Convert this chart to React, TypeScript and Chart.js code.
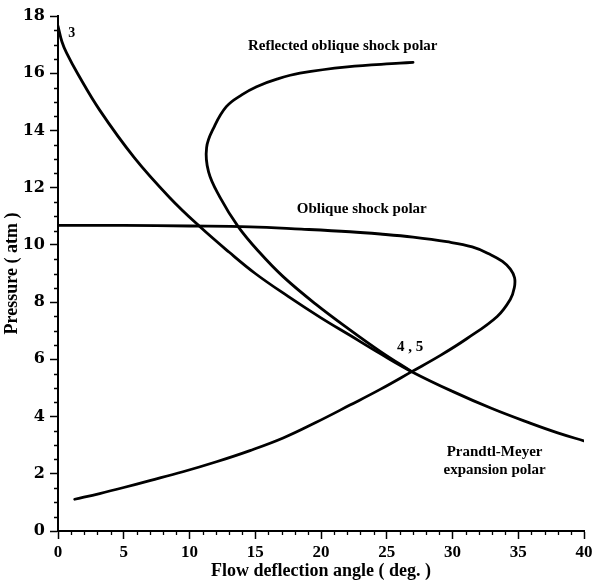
import React, { useEffect, useRef } from 'react';
import { Chart, registerables } from 'chart.js';

Chart.register(...registerables);

// Prandtl-Meyer expansion polar
const pmX = [0.0, 0.3, 0.66, 1.5, 3.17, 5.8, 8.5, 10.78, 13.0, 15.0, 17.5, 20.0, 22.2, 24.5, 26.9, 30.0, 33.0, 35.9, 38.0, 40.0];
const pmY = [17.65, 17.1, 16.7, 15.98, 14.71, 13.05, 11.65, 10.64, 9.75, 9.0, 8.2, 7.45, 6.84, 6.2, 5.57, 4.88, 4.28, 3.77, 3.43, 3.15];

// Oblique shock polar
const osX = [0.0, 5.0, 10.0, 14.6, 18.5, 22.2, 24.5, 27.0, 29.56, 31.5, 32.85, 33.8, 34.4, 34.72, 34.7, 34.4, 33.4, 31.08, 29.05, 26.9, 24.5, 22.2, 19.6, 17.12, 14.6, 12.05, 9.5, 6.98, 5.0, 3.17, 1.27];
const osY = [10.68, 10.68, 10.66, 10.63, 10.55, 10.46, 10.38, 10.27, 10.11, 9.93, 9.67, 9.42, 9.15, 8.85, 8.5, 8.1, 7.5, 6.72, 6.13, 5.57, 4.95, 4.4, 3.79, 3.25, 2.81, 2.42, 2.07, 1.76, 1.52, 1.31, 1.11];

// Reflected oblique shock polar
const rsX = [27.0, 26.0, 22.0, 18.4, 16.7, 15.1, 14.0, 12.8, 11.85, 11.3, 11.45, 12.3, 13.7, 15.3, 17.12, 19.6, 22.2, 24.5, 26.9];
const rsY = [16.38, 16.35, 16.22, 16.0, 15.8, 15.53, 15.25, 14.83, 14.1, 13.4, 12.55, 11.68, 10.64, 9.75, 8.89, 7.93, 7.03, 6.28, 5.57];

const xTicks = [0, 5, 10, 15, 20, 25, 30, 35, 40];
const yTicks = [0, 2, 4, 6, 8, 10, 12, 14, 16, 18];

const xTitle = 'Flow deflection angle ( deg. )';
const yTitle = 'Pressure ( atm )';

const labelTexts = ['3', 'Reflected oblique shock polar', 'Oblique shock polar', '4 , 5', 'Prandtl-Meyer', 'expansion polar'];
const labelX = [1.05, 21.65, 23.1, 26.77, 33.2, 33.2];
const labelY = [17.4, 16.95, 11.25, 6.43, 2.76, 2.13];
const labelSize = [14, 15, 15, 15, 15, 15];

const zip = (xs: number[], ys: number[]) => xs.map((x, i) => ({ x, y: ys[i] }));

const SERIF = '"Liberation Serif", "Times New Roman", serif';

const minorTicks = {
  id: 'minorTicks',
  afterDraw(chart: any) {
    const { ctx, scales, chartArea } = chart;
    const xs = scales.x;
    const ys = scales.y;
    ctx.save();
    ctx.strokeStyle = '#000';
    ctx.lineWidth = 1.3;
    ctx.beginPath();
    for (let v = 0; v <= 40; v += 1) {
      if (v % 5 === 0) continue;
      const px = Math.round(xs.getPixelForValue(v)) + 0.5;
      ctx.moveTo(px, chartArea.bottom);
      ctx.lineTo(px, chartArea.bottom + 4);
    }
    for (let v = 0; v <= 18; v += 0.5) {
      if (v % 2 === 0) continue;
      const py = Math.round(ys.getPixelForValue(v)) + 0.5;
      ctx.moveTo(chartArea.left, py);
      ctx.lineTo(chartArea.left - 4, py);
    }
    ctx.stroke();
    ctx.restore();
  },
};

const curveText = {
  id: 'curveText',
  afterDatasetsDraw(chart: any) {
    const { ctx, scales } = chart;
    ctx.save();
    ctx.fillStyle = '#000';
    ctx.textAlign = 'center';
    ctx.textBaseline = 'middle';
    labelTexts.forEach((t, i) => {
      ctx.font = `bold ${labelSize[i]}px ${SERIF}`;
      ctx.fillText(t, scales.x.getPixelForValue(labelX[i]), scales.y.getPixelForValue(labelY[i]));
    });
    ctx.restore();
  },
};

export default function App() {
  const ref = useRef<HTMLCanvasElement | null>(null);

  useEffect(() => {
    if (!ref.current) return;
    const line = {
      showLine: true,
      pointRadius: 0,
      borderColor: '#000',
      backgroundColor: '#000',
      borderWidth: 2.8,
      tension: 0.4,
      fill: false,
      borderCapStyle: 'round',
      borderJoinStyle: 'round',
    };
    const chart = new Chart(ref.current, {
      type: 'scatter',
      data: {
        datasets: [
          { ...line, label: 'Prandtl-Meyer expansion polar', data: zip(pmX, pmY) },
          { ...line, label: 'Oblique shock polar', data: zip(osX, osY) },
          { ...line, label: 'Reflected oblique shock polar', data: zip(rsX, rsY) },
        ],
      },
      options: {
        animation: false,
        responsive: false,
        devicePixelRatio: 1,
        layout: { padding: { left: 2, right: 12, top: 16, bottom: 0 } },
        plugins: { legend: { display: false }, tooltip: { enabled: false } },
        scales: {
          x: {
            type: 'linear',
            min: 0,
            max: 40,
            afterBuildTicks: (s: any) => {
              s.ticks = xTicks.map((v) => ({ value: v }));
            },
            afterFit: (s: any) => {
              s.height = 52;
            },
            ticks: {
              color: '#000',
              font: { family: SERIF, size: 17, weight: 'bold' },
              padding: 3,
              maxRotation: 0,
              autoSkip: false,
            },
            grid: { drawOnChartArea: false, drawTicks: true, tickLength: 8, tickColor: '#000', tickWidth: 1.5 },
            border: { display: true, color: '#000', width: 2 },
            title: {
              display: true,
              text: xTitle,
              color: '#000',
              font: { family: SERIF, size: 18, weight: 'bold' },
              padding: { top: 0, bottom: 1 },
            },
          },
          y: {
            type: 'linear',
            min: 0,
            max: 18,
            afterBuildTicks: (s: any) => {
              s.ticks = yTicks.map((v) => ({ value: v }));
            },
            afterFit: (s: any) => {
              s.width = 56;
            },
            ticks: {
              color: '#000',
              font: { family: '"DejaVu Serif", serif', size: 16, weight: 'bold' },
              padding: 5,
              autoSkip: false,
            },
            grid: { drawOnChartArea: false, drawTicks: true, tickLength: 8, tickColor: '#000', tickWidth: 1.5 },
            border: { display: true, color: '#000', width: 2 },
            title: {
              display: true,
              text: yTitle,
              color: '#000',
              font: { family: SERIF, size: 18, weight: 'bold' },
              padding: { top: 0, bottom: 0 },
            },
          },
        },
      },
      plugins: [minorTicks, curveText],
    } as any);
    return () => chart.destroy();
  }, []);

  return (
    <div style={{ position: 'absolute', left: 0, top: 0, width: 596, height: 583, background: '#fff' }}>
      <canvas ref={ref} width={596} height={583} style={{ display: 'block', width: 596, height: 583 }} />
    </div>
  );
}
